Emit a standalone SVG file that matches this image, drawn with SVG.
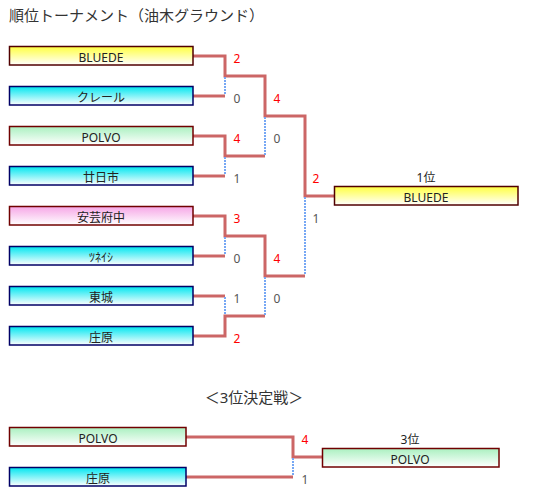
<svg xmlns="http://www.w3.org/2000/svg" width="543" height="501" viewBox="0 0 543 501">
<defs>
<linearGradient id="gY" x1="0" y1="0" x2="0" y2="1"><stop offset="0" stop-color="#ffff40"/><stop offset="1" stop-color="#ffffff"/></linearGradient>
<linearGradient id="gC" x1="0" y1="0" x2="0" y2="1"><stop offset="0" stop-color="#00e6f0"/><stop offset="1" stop-color="#ffffff"/></linearGradient>
<linearGradient id="gG" x1="0" y1="0" x2="0" y2="1"><stop offset="0" stop-color="#aaf0c0"/><stop offset="1" stop-color="#ffffff"/></linearGradient>
<linearGradient id="gP" x1="0" y1="0" x2="0" y2="1"><stop offset="0" stop-color="#f6a6e6"/><stop offset="1" stop-color="#ffffff"/></linearGradient>
</defs>
<style>
text{font-family:"Noto Sans","Noto Sans CJK JP",sans-serif;}
.t{font-size:15px;fill:#333;}
.n{font-size:12px;fill:#222;text-anchor:middle;}
.bY{fill:url(#gY);stroke:#500000;stroke-width:1.5;}
.bC{fill:url(#gC);stroke:#000066;stroke-width:1.5;}
.bG{fill:url(#gG);stroke:#700000;stroke-width:1.5;}
.bP{fill:url(#gP);stroke:#700000;stroke-width:1.5;}
.w{fill:none;stroke:#cc6666;stroke-width:3;}
.l{fill:none;stroke:#77a8f4;stroke-width:2;stroke-dasharray:2 1;}
.sw{font-size:12px;fill:#ff0000;text-anchor:middle;}
.sl{font-size:12px;fill:#555;text-anchor:middle;}
.r{font-size:12px;fill:#222;text-anchor:middle;}
</style>
<text class="t" x="9" y="21">順位トーナメント（油木グラウンド）</text>

<g id="connectors">
<polyline class="w" points="193,56 225,56 225,76 265,76 265,116 305,116 305,196 334,196"/>
<polyline class="w" points="193,96 225,96"/>
<line class="l" x1="225" y1="77" x2="225" y2="95"/>
<polyline class="w" points="193,136 225,136 225,156 265,156"/>
<polyline class="w" points="193,176 225,176"/>
<line class="l" x1="225" y1="157" x2="225" y2="175"/>
<line class="l" x1="265" y1="117" x2="265" y2="155"/>
<polyline class="w" points="193,216 225,216 225,236 265,236 265,276 305,276"/>
<polyline class="w" points="193,256 225,256"/>
<line class="l" x1="225" y1="237" x2="225" y2="255"/>
<polyline class="w" points="193,296 225,296"/>
<polyline class="w" points="193,336 225,336 225,316 265,316"/>
<line class="l" x1="225" y1="297" x2="225" y2="315"/>
<line class="l" x1="265" y1="277" x2="265" y2="315"/>
<line class="l" x1="305" y1="197" x2="305" y2="275"/>
<polyline class="w" points="186,437 293,437 293,457 322,457"/>
<polyline class="w" points="186,477 293,477"/>
<line class="l" x1="293" y1="458" x2="293" y2="476"/>
</g>

<g id="scores">
<text class="sw" x="237" y="63">2</text>
<text class="sl" x="237" y="103">0</text>
<text class="sw" x="237" y="143">4</text>
<text class="sl" x="237" y="183">1</text>
<text class="sw" x="237" y="223">3</text>
<text class="sl" x="237" y="263">0</text>
<text class="sl" x="237" y="303">1</text>
<text class="sw" x="237" y="343">2</text>
<text class="sw" x="277" y="103">4</text>
<text class="sl" x="277" y="143">0</text>
<text class="sw" x="277" y="263">4</text>
<text class="sl" x="277" y="303">0</text>
<text class="sw" x="316" y="183">2</text>
<text class="sl" x="316" y="223">1</text>
<text class="sw" x="305" y="444">4</text>
<text class="sl" x="305" y="484">1</text>
</g>

<g id="n1"><rect class="bY" x="9.5" y="46.5" width="183.5" height="18.5"/><text class="n" x="101" y="62">BLUEDE</text></g>
<g id="n2"><rect class="bC" x="9.5" y="86.5" width="183.5" height="18.5"/><text class="n" x="101" y="102">クレール</text></g>
<g id="n3"><rect class="bG" x="9.5" y="126.5" width="183.5" height="18.5"/><text class="n" x="101" y="142">POLVO</text></g>
<g id="n4"><rect class="bC" x="9.5" y="166.5" width="183.5" height="18.5"/><text class="n" x="101" y="182">廿日市</text></g>
<g id="n5"><rect class="bP" x="9.5" y="206.5" width="183.5" height="18.5"/><text class="n" x="101" y="222">安芸府中</text></g>
<g id="n6"><rect class="bC" x="9.5" y="246.5" width="183.5" height="18.5"/><text class="n" x="101" y="262">ﾂﾈｲｼ</text></g>
<g id="n7"><rect class="bC" x="9.5" y="286.5" width="183.5" height="18.5"/><text class="n" x="101" y="302">東城</text></g>
<g id="n8"><rect class="bC" x="9.5" y="326.5" width="183.5" height="18.5"/><text class="n" x="101" y="342">庄原</text></g>

<g id="champion"><text class="r" x="426" y="182">1位</text><rect class="bY" x="334.5" y="186.5" width="183.5" height="18.5"/><text class="n" x="426" y="202">BLUEDE</text></g>

<text class="t" x="254" y="403" text-anchor="middle">＜3位決定戦＞</text>

<g id="t1"><rect class="bG" x="9.5" y="427.5" width="176.5" height="18.5"/><text class="n" x="98" y="443">POLVO</text></g>
<g id="t2"><rect class="bC" x="9.5" y="467.5" width="176.5" height="18.5"/><text class="n" x="98" y="483">庄原</text></g>
<g id="third"><text class="r" x="410" y="444">3位</text><rect class="bG" x="322.5" y="448.5" width="176.5" height="18.5"/><text class="n" x="410" y="464">POLVO</text></g>
</svg>
